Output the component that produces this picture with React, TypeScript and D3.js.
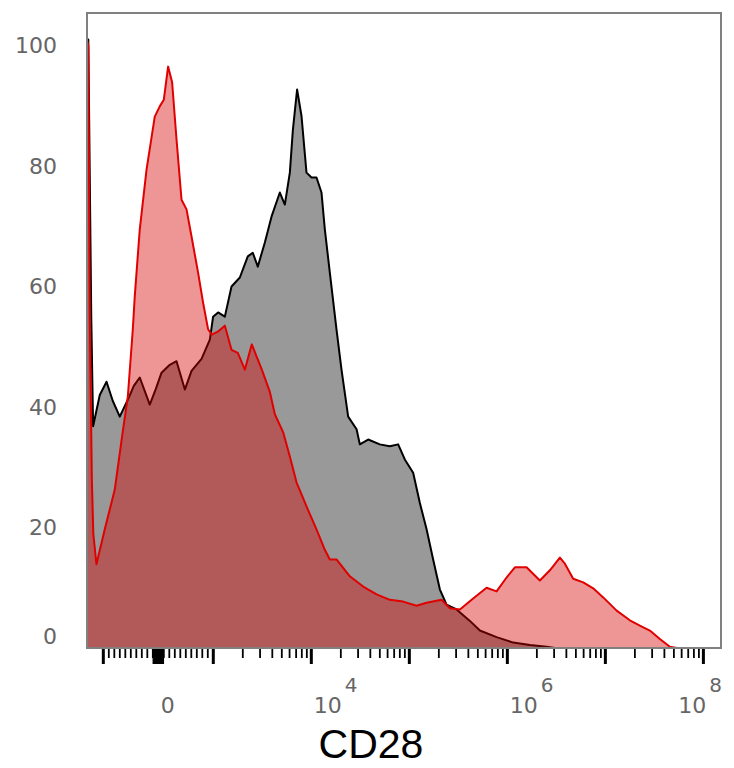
import { useEffect, useRef } from 'react';
import * as d3 from 'd3';

const WIDTH = 734;
const HEIGHT = 768;
const PLOT = { left: 87, right: 721, top: 13, bottom: 648 };

// x positions are in display units of the biexponential axis (0 = zero, 1 unit ~ one decade)
const greyPos = [
  -0.724, -0.709, -0.679, -0.66, -0.592, -0.523, -0.459, -0.388, -0.306, -0.245, -0.184, -0.082,
  -0.02, 0.038, 0.122, 0.191, 0.276, 0.344, 0.446, 0.531, 0.564, 0.615, 0.684, 0.752, 0.837,
  0.918, 0.969, 1.02, 1.092, 1.16, 1.245, 1.296, 1.347, 1.378, 1.421, 1.466, 1.517, 1.568, 1.619,
  1.67, 1.704, 1.755, 1.823, 1.874, 1.942, 2.028, 2.061, 2.146, 2.265, 2.367, 2.452, 2.52, 2.605,
  2.673, 2.742, 2.809, 2.878, 2.946, 3.048, 3.184, 3.286, 3.456, 3.626, 3.796, 3.966, 4.051, 5.745,
];
const greyPct = [
  101, 101, 55, 36.8, 42, 44.2, 41, 38.4, 41.2, 43.5, 44.9, 40.4,
  43, 45.7, 47, 47.6, 42.9, 46, 48, 51.2, 55, 55.7, 55, 60, 61.5,
  65, 65.6, 63.3, 67.3, 71.6, 75.6, 73.6, 78.9, 86, 92.7, 88.3, 78.9, 78.1, 78.1,
  75.6, 69.5, 62.3, 52.9, 46.2, 38.4, 36.3, 33.8, 34.6, 33.8, 33.5, 33.8, 31.3, 29.1,
  24.1, 19.7, 14.7, 9.7, 7.2, 6.4, 4.5, 2.9, 1.8, 0.9, 0.5, 0.2, 0, 0,
];

const redPos = [
  -0.724, -0.709, -0.694, -0.673, -0.658, -0.626, -0.541, -0.439, -0.357, -0.306, -0.255, -0.235,
  -0.184, -0.115, -0.031, 0.02, 0.061, 0.105, 0.146, 0.191, 0.242, 0.293, 0.344, 0.411, 0.462,
  0.513, 0.551, 0.612, 0.684, 0.752, 0.816, 0.888, 0.959, 1.061, 1.143, 1.194, 1.279, 1.347,
  1.415, 1.517, 1.619, 1.704, 1.755, 1.823, 1.959, 2.095, 2.232, 2.367, 2.503, 2.64, 2.742,
  2.895, 2.98, 3.082, 3.217, 3.354, 3.456, 3.558, 3.643, 3.762, 3.898, 4.0, 4.102, 4.153, 4.238,
  4.34, 4.442, 4.544, 4.681, 4.816, 4.918, 5.02, 5.122, 5.224, 5.296, 5.745,
];
const redPct = [
  101, 100, 55, 28, 19, 13.9, 19.7, 26.3, 36, 41.7, 52.9, 58.4,
  69.5, 79.4, 88.2, 89.9, 91, 96.5, 93.9, 84.4, 74.4, 72.8, 68.3, 62.3, 57.3,
  52.9, 52, 52.5, 53.5, 49.5, 49, 46.2, 50.4, 46.2, 42.5, 38.8, 35.8, 31.8,
  27.5, 23.5, 19.7, 16.3, 14.7, 14.7, 11.9, 10.2, 8.9, 8, 7.7, 7, 7.5,
  8, 6.6, 6.4, 8.2, 10, 9.4, 11.7, 13.4, 13.4, 11.2, 12.9, 15, 14, 11.5,
  10.9, 9.9, 8.4, 6.2, 4.6, 3.7, 2.9, 1.5, 0.2, 0, 0,
];

const yTicks = [0, 20, 40, 60, 80, 100];
const xLabels = [0, 1e4, 1e6, 1e8];
const xMajor = [-1e3, 0, 1e3, 1e4, 1e5, 1e6, 1e7, 1e8];
const X_MIN = -1450;
const X_MAX = 1.53e8;
const Y_MAX = 105.4;

// simple biexponential: linear inside +-LIN, log10 outside
const LIN = 1000;
const LIN_WIDTH = 0.561;
const biex = (v: number) => {
  const a = Math.abs(v);
  const t = a <= LIN ? (LIN_WIDTH * a) / LIN : LIN_WIDTH + Math.log10(a / LIN);
  return Math.sign(v) * t;
};

const minorTicks: number[] = [];
for (let k = 100; k < 1000; k += 100) minorTicks.push(k, -k);
for (let e = 3; e < 8; e++) for (let m = 2; m <= 9; m++) minorTicks.push(m * 10 ** e);
const zeroTicks = d3.range(-90, 100, 10);

export default function App() {
  const svgRef = useRef<SVGSVGElement>(null);

  useEffect(() => {
    if (!svgRef.current) return;
    const svg = d3.select(svgRef.current);
    svg.selectAll('*').remove();

    const x = d3.scaleLinear().domain([biex(X_MIN), biex(X_MAX)]).range([PLOT.left, PLOT.right]);
    const y = d3.scaleLinear().domain([0, Y_MAX]).range([PLOT.bottom, PLOT.top]);

    svg
      .append('defs')
      .append('clipPath')
      .attr('id', 'plot-clip')
      .append('rect')
      .attr('x', PLOT.left)
      .attr('y', PLOT.top)
      .attr('width', PLOT.right - PLOT.left)
      .attr('height', PLOT.bottom - PLOT.top);

    const area = d3
      .area<number[]>()
      .x((d) => x(d[0]))
      .y0(y(0))
      .y1((d) => y(d[1]));
    const line = d3
      .line<number[]>()
      .x((d) => x(d[0]))
      .y((d) => y(d[1]));

    const grey = d3.zip(greyPos, greyPct);
    const red = d3.zip(redPos, redPct);

    const plot = svg.append('g').attr('clip-path', 'url(#plot-clip)');
    plot.append('path').datum(grey).attr('d', area).attr('fill', '#999999');
    plot
      .append('path')
      .datum(grey)
      .attr('d', line)
      .attr('fill', 'none')
      .attr('stroke', '#000')
      .attr('stroke-width', 2)
      .attr('stroke-linejoin', 'round');
    plot.append('path').datum(red).attr('d', area).attr('fill', 'rgba(214,0,0,0.41)');
    plot
      .append('path')
      .datum(red)
      .attr('d', line)
      .attr('fill', 'none')
      .attr('stroke', '#e00000')
      .attr('stroke-width', 2)
      .attr('stroke-linejoin', 'round');

    svg
      .append('rect')
      .attr('x', PLOT.left)
      .attr('y', PLOT.top)
      .attr('width', PLOT.right - PLOT.left)
      .attr('height', PLOT.bottom - PLOT.top)
      .attr('fill', 'none')
      .attr('stroke', '#808080')
      .attr('stroke-width', 2);

    const tickAxis = (values: number[], size: number, width: number) => {
      svg
        .append('g')
        .attr('transform', `translate(0,${PLOT.bottom + 1})`)
        .call(
          d3
            .axisBottom(x)
            .tickValues(values.map(biex))
            .tickSize(size)
            .tickFormat(() => '')
        )
        .call((g) => g.select('.domain').remove())
        .selectAll('line')
        .attr('stroke', '#000')
        .attr('stroke-width', width);
    };
    tickAxis(minorTicks, 9, 1.8);
    tickAxis(zeroTicks, 15, 1.6);
    tickAxis(xMajor, 15, 3);

    // x tick labels: start at the tick, pulled in if they run past the frame
    xLabels.forEach((v) => {
      const x0 = x(biex(v)) + 3;
      const base = svg
        .append('text')
        .attr('x', x0)
        .attr('y', 713)
        .attr('font-family', 'DejaVu Sans')
        .attr('font-size', 22)
        .attr('fill', '#666')
        .text(v === 0 ? '0' : '10');
      if (v === 0) return;
      const baseW = (base.node() as SVGTextElement).getComputedTextLength();
      const sup = svg
        .append('text')
        .attr('x', x0 + baseW + 3)
        .attr('y', 692)
        .attr('font-family', 'DejaVu Sans')
        .attr('font-size', 20)
        .attr('fill', '#666')
        .text(String(Math.round(Math.log10(v))));
      const supW = (sup.node() as SVGTextElement).getComputedTextLength();
      const over = x0 + baseW + 3 + supW - (PLOT.right + 1);
      if (over > 0) {
        base.attr('x', x0 - over);
        sup.attr('x', x0 + baseW + 3 - over);
      }
    });

    svg
      .append('g')
      .selectAll('text')
      .data(yTicks)
      .enter()
      .append('text')
      .attr('x', 57)
      .attr('y', (d) => Math.min(y(d), PLOT.bottom - 12))
      .attr('dy', '0.35em')
      .attr('text-anchor', 'end')
      .attr('font-family', 'DejaVu Sans')
      .attr('font-size', 22)
      .attr('fill', '#666')
      .text((d) => d);

    svg
      .append('text')
      .attr('x', 371)
      .attr('y', 758)
      .attr('text-anchor', 'middle')
      .attr('font-family', 'Liberation Sans')
      .attr('font-size', 41)
      .attr('fill', '#000')
      .text('CD28');
  }, []);

  return (
    <svg
      ref={svgRef}
      width={WIDTH}
      height={HEIGHT}
      style={{ position: 'absolute', left: 0, top: 0, background: '#fff' }}
    />
  );
}
